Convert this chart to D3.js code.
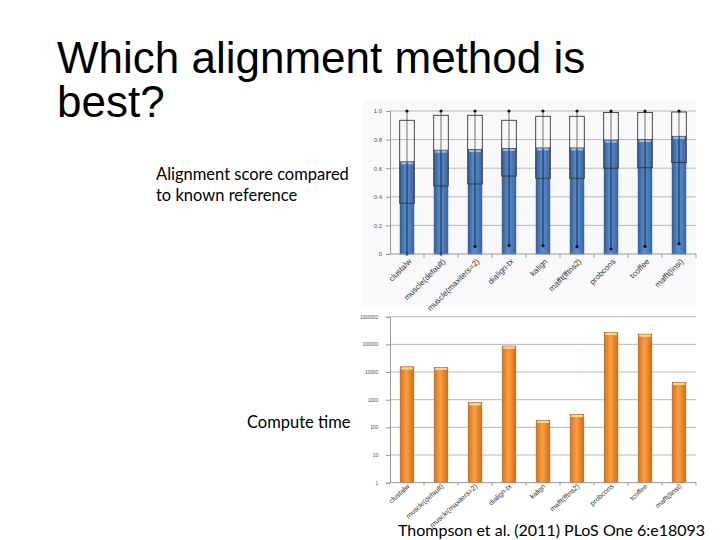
<!DOCTYPE html>
<html>
<head>
<meta charset="utf-8">
<script src="https://cdn.jsdelivr.net/npm/d3@7"></script>
<style>
  html, body { margin: 0; padding: 0; background: #fff; }
  svg { display: block; }
</style>
</head>
<body>
<svg width="720" height="540"></svg>
<script>
// data
var methods = ["clustalw", "muscle(default)", "muscle(maxiters=2)", "dialign-tx", "kalign",
  "mafft(fftns2)", "probcons", "tcoffee", "mafft(linsi)"];
var meanScore = [0.645, 0.726, 0.730, 0.738, 0.742, 0.742, 0.796, 0.800, 0.823];
var upperQuart = [0.935, 0.970, 0.970, 0.935, 0.963, 0.963, 0.990, 0.990, 0.993];
var lowerQuart = [0.355, 0.476, 0.490, 0.545, 0.530, 0.530, 0.600, 0.603, 0.640];
var maxScore = [1, 1, 1, 1, 1, 1, 1, 1, 1];
var minScore = [0.0, 0.0, 0.053, 0.060, 0.058, 0.051, 0.035, 0.053, 0.072];
var computeTime = [15500, 14800, 780, 87000, 180, 295, 270000, 235000, 4250];
var scoreTicks = [0, 0.2, 0.4, 0.6, 0.8, 1.0];
var timeTicks = [1, 10, 100, 1000, 10000, 100000, 1000000];

var svg = d3.select("svg");
var defs = svg.append("defs");

function barGradient(id, stops) {
  var g = defs.append("linearGradient").attr("id", id)
    .attr("x1", "0%").attr("x2", "100%").attr("y1", "0%").attr("y2", "0%");
  g.selectAll("stop").data(stops).enter().append("stop")
    .attr("offset", function (d) { return d[0]; })
    .attr("stop-color", function (d) { return d[1]; });
}
barGradient("blueGrad", [["0%", "#34609a"], ["45%", "#5a8ed0"], ["100%", "#3a68a4"]]);
barGradient("orangeGrad", [["0%", "#d9701a"], ["45%", "#fba043"], ["100%", "#d46c18"]]);

// slide text
var title = svg.append("text")
  .style("font-family", "'Liberation Sans', Arial, sans-serif")
  .style("font-size", "44px")
  .style("fill", "#000");
title.append("tspan").attr("x", 57).attr("y", 73).text("Which alignment method is");
title.append("tspan").attr("x", 57).attr("y", 117).text("best?");

var side = svg.append("text")
  .style("font-family", "Lato, 'Open Sans', sans-serif")
  .style("font-size", "16.5px")
  .style("fill", "#000");
side.append("tspan").attr("x", 156).attr("y", 180).text("Alignment score compared");
side.append("tspan").attr("x", 156).attr("y", 201).text("to known reference");

svg.append("text")
  .attr("x", 247).attr("y", 428)
  .style("font-family", "Lato, 'Open Sans', sans-serif")
  .style("font-size", "16.5px")
  .text("Compute time");

// ---------- top chart: alignment score ----------
svg.append("rect")
  .attr("x", 362).attr("y", 100).attr("width", 334).attr("height", 207)
  .style("fill", "#f9f9fb");

var x = d3.scaleBand().domain(methods).range([390, 696])
  .paddingInner(0.6).paddingOuter(0.3);
var yScore = d3.scaleLinear().domain([0, 1]).range([254, 111]);
var bw = x.bandwidth();
var step = x.step();

var gTop = svg.append("g");
gTop.selectAll(".grid").data(scoreTicks.slice(1)).enter().append("line")
  .attr("x1", 390).attr("x2", 696)
  .attr("y1", function (d) { return yScore(d); })
  .attr("y2", function (d) { return yScore(d); })
  .style("stroke", "#a8a8a8").style("stroke-width", 0.8);

var yAxisTop = d3.axisLeft(yScore).tickValues(scoreTicks).tickSize(4)
  .tickFormat(function (d) { return d === 0 ? "0" : d3.format(".1f")(d); });
var gy = svg.append("g").attr("transform", "translate(390,0)").call(yAxisTop);
gy.select(".domain").style("stroke", "#999");
gy.selectAll(".tick line").style("stroke", "#999");
gy.selectAll("text").style("font-family", "Arial, sans-serif").style("font-size", "6px")
  .style("fill", "#555").attr("x", -8);

methods.forEach(function (m, i) {
  var x0 = x(m), cx = x0 + bw / 2;
  // mean bar
  gTop.append("rect")
    .attr("x", x0).attr("y", yScore(meanScore[i]))
    .attr("width", bw).attr("height", yScore(0) - yScore(meanScore[i]))
    .style("fill", "url(#blueGrad)").style("stroke", "#2b4f80").style("stroke-width", 0.8);
  gTop.append("rect")
    .attr("x", x0 + 1).attr("y", yScore(meanScore[i]) + 0.5)
    .attr("width", bw - 2).attr("height", 2)
    .style("fill", "#9fc0ea");
  // whisker
  gTop.append("line")
    .attr("x1", cx).attr("x2", cx)
    .attr("y1", yScore(maxScore[i])).attr("y2", yScore(meanScore[i]))
    .style("stroke", "#888").style("stroke-width", 1.2);
  gTop.append("line")
    .attr("x1", cx).attr("x2", cx)
    .attr("y1", yScore(meanScore[i])).attr("y2", yScore(minScore[i]))
    .style("stroke", "#14243c").style("stroke-width", 1);
  // quartile box
  gTop.append("rect")
    .attr("x", x0 - 0.5).attr("y", yScore(upperQuart[i]))
    .attr("width", bw + 1).attr("height", yScore(lowerQuart[i]) - yScore(upperQuart[i]))
    .style("fill", "none").style("stroke", "#333").style("stroke-width", 0.9);
  gTop.append("circle").attr("cx", cx).attr("cy", yScore(maxScore[i])).attr("r", 1.6)
    .style("fill", "#111");
  gTop.append("circle").attr("cx", cx).attr("cy", yScore(minScore[i])).attr("r", 1.6)
    .style("fill", "#111");
});

gTop.append("line").attr("x1", 390).attr("x2", 696)
  .attr("y1", yScore(0)).attr("y2", yScore(0))
  .style("stroke", "#999");
// category separators below the axis
gTop.selectAll(".ctick").data(methods).enter().append("line")
  .attr("x1", function (d) { return x(d) + bw / 2 + step / 2; })
  .attr("x2", function (d) { return x(d) + bw / 2 + step / 2; })
  .attr("y1", yScore(0)).attr("y2", yScore(0) + 4)
  .style("stroke", "#999");

gTop.selectAll(".xl").data(methods).enter().append("text")
  .attr("transform", function (d) {
    return "translate(" + (x(d) + bw / 2 + 5) + "," + 262 + ") rotate(-45)";
  })
  .attr("text-anchor", "end")
  .style("font-family", "Arial, sans-serif").style("font-size", "8px")
  .style("fill", "#333")
  .text(function (d) { return d; });

// ---------- bottom chart: compute time (log) ----------
var yTime = d3.scaleLog().domain([1, 1000000]).range([482.7, 316.7]);
var gBot = svg.append("g");

gBot.selectAll(".grid").data(timeTicks.slice(1)).enter().append("line")
  .attr("x1", 390).attr("x2", 696)
  .attr("y1", function (d) { return yTime(d); })
  .attr("y2", function (d) { return yTime(d); })
  .style("stroke", "#a8a8a8").style("stroke-width", 0.8);

var yAxisBot = d3.axisLeft(yTime).tickValues(timeTicks).tickSize(4)
  .tickFormat(d3.format("d"));
var gb = svg.append("g").attr("transform", "translate(390,0)").call(yAxisBot);
gb.select(".domain").style("stroke", "#999");
gb.selectAll(".tick line").style("stroke", "#999");
gb.selectAll("text").style("font-family", "'Liberation Sans Narrow', Arial, sans-serif")
  .style("font-size", "5px").style("letter-spacing", "-0.2px")
  .style("fill", "#555").attr("x", -12);

methods.forEach(function (m, i) {
  var x0 = x(m);
  gBot.append("rect")
    .attr("x", x0).attr("y", yTime(computeTime[i]))
    .attr("width", bw).attr("height", yTime(1) - yTime(computeTime[i]))
    .style("fill", "url(#orangeGrad)").style("stroke", "#b85d12").style("stroke-width", 0.6);
  gBot.append("rect")
    .attr("x", x0 + 1).attr("y", yTime(computeTime[i]) + 0.5)
    .attr("width", bw - 2).attr("height", 2.2)
    .style("fill", "#ffd98a");
});

gBot.append("line").attr("x1", 390).attr("x2", 696)
  .attr("y1", yTime(1)).attr("y2", yTime(1))
  .style("stroke", "#999");
gBot.selectAll(".ctick").data(methods).enter().append("line")
  .attr("x1", function (d) { return x(d) + bw / 2 + step / 2; })
  .attr("x2", function (d) { return x(d) + bw / 2 + step / 2; })
  .attr("y1", yTime(1)).attr("y2", yTime(1) + 3)
  .style("stroke", "#999");

gBot.selectAll(".xl").data(methods).enter().append("text")
  .attr("transform", function (d) {
    return "translate(" + (x(d) + bw / 2 + 3) + "," + 487 + ") rotate(-42)";
  })
  .attr("text-anchor", "end")
  .style("font-family", "Arial, sans-serif").style("font-size", "7px")
  .style("fill", "#333")
  .text(function (d) { return d; });

// citation
svg.append("text")
  .attr("x", 398).attr("y", 536)
  .style("font-family", "Lato, 'Open Sans', sans-serif")
  .style("font-size", "16px")
  .style("fill", "#000")
  .text("Thompson et al. (2011) PLoS One 6:e18093");
</script>
</body>
</html>
